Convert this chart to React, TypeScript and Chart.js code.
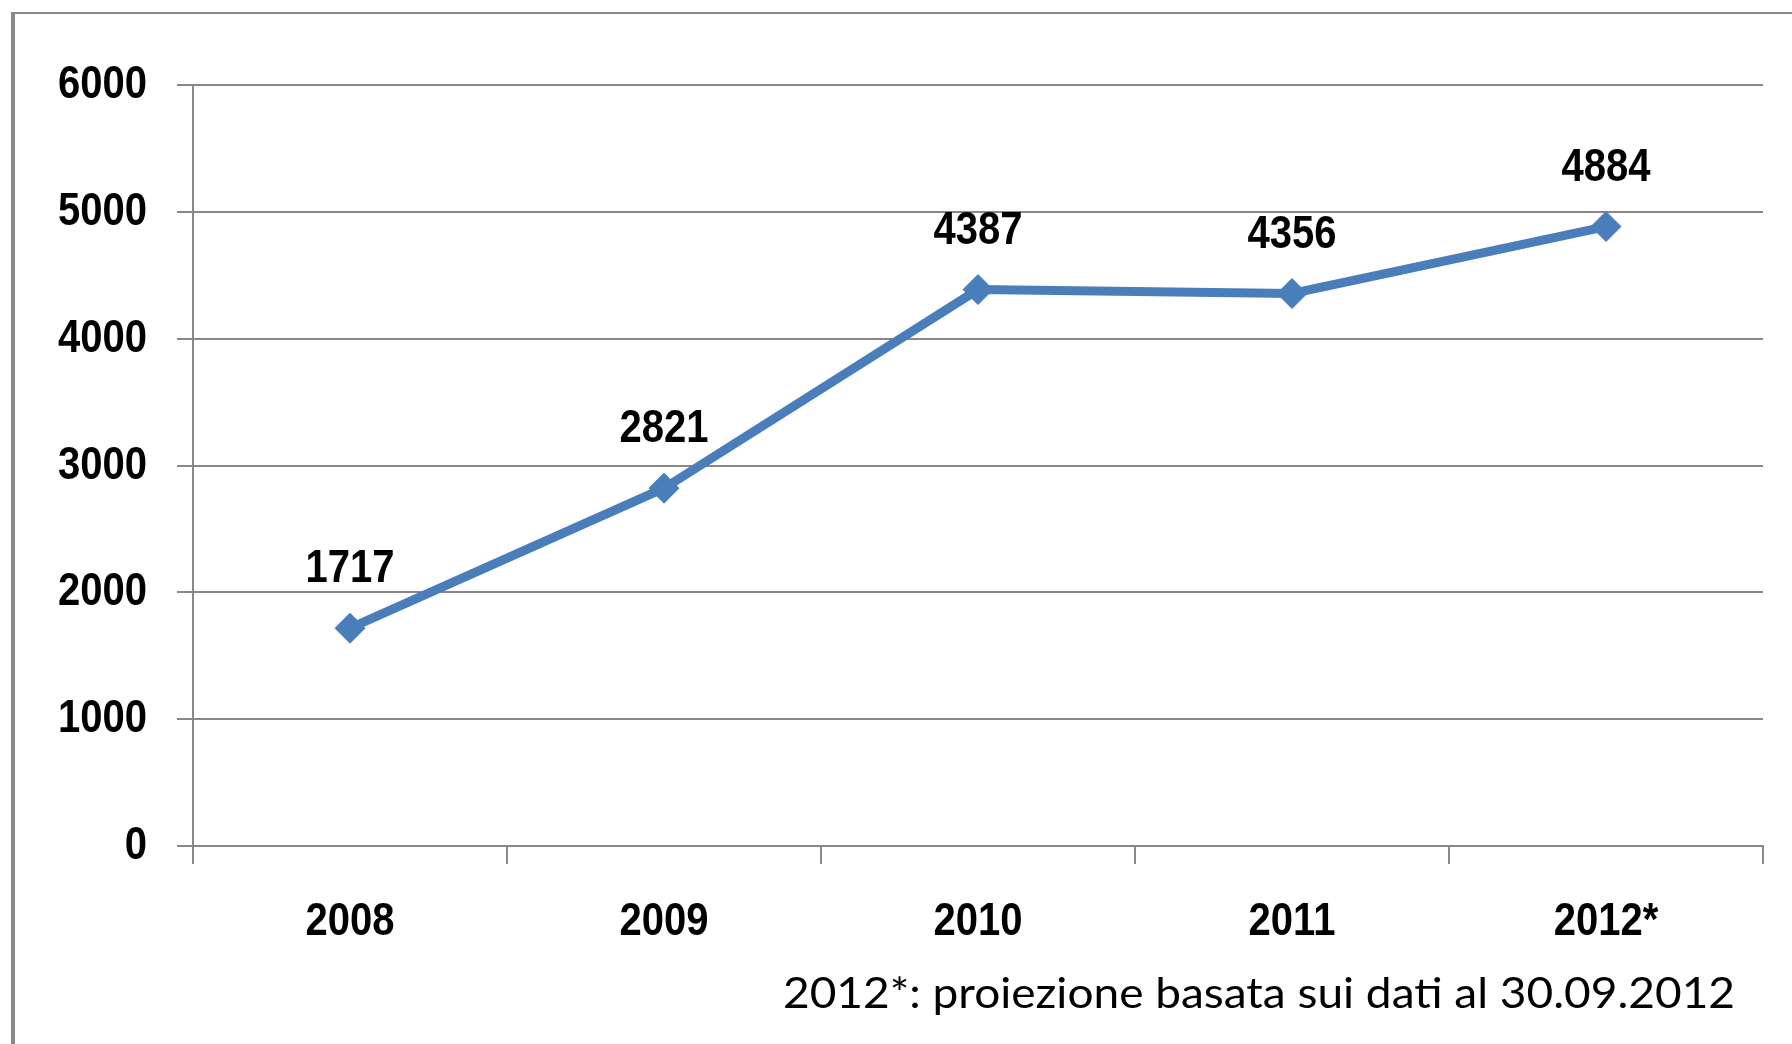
import React, { useEffect, useRef } from "react";
import { Chart, registerables } from "chart.js";

Chart.register(...registerables);

const categories = ["2008", "2009", "2010", "2011", "2012*"];
const values = [1717, 2821, 4387, 4356, 4884];
const yTicks = [0, 1000, 2000, 3000, 4000, 5000, 6000];
const footnote = "2012*: proiezione basata sui dati al 30.09.2012";

const W = 1792;
const H = 1044;
const GRAY = "#888888";
const BLUE = "#4a7ebb";
const BOLD_FONT = "bold 46px 'Liberation Sans', Arial, sans-serif";
const NARROW = 0.87;

function drawNarrow(ctx: any, text: string, x: number, y: number, align: string) {
  ctx.save();
  ctx.translate(x, y);
  ctx.scale(NARROW, 1);
  ctx.textAlign = align;
  ctx.textBaseline = "alphabetic";
  ctx.fillText(text, 0, 0);
  ctx.restore();
}

const decorPlugin = {
  id: "decor",
  beforeDraw(chart: any) {
    const ctx = chart.ctx;
    ctx.save();
    ctx.fillStyle = "#ffffff";
    ctx.fillRect(0, 0, W, H);
    ctx.fillStyle = GRAY;
    ctx.fillRect(11, 12, 4, H);
    ctx.fillRect(11, 12, W, 2);
    ctx.restore();
  },
  afterDatasetsDraw(chart: any) {
    const ctx = chart.ctx;
    const meta = chart.getDatasetMeta(0);
    const xs = chart.scales.x;
    const ys = chart.scales.y;
    ctx.save();
    ctx.fillStyle = "#000";
    ctx.font = BOLD_FONT;
    // data labels
    meta.data.forEach((pt: any, i: number) => {
      drawNarrow(ctx, String(values[i]), pt.x, pt.y - 46, "center");
    });
    // y tick labels
    yTicks.forEach((v) => {
      const py = ys.getPixelForValue(v);
      drawNarrow(ctx, String(v), 147, py + 13, "right");
    });
    // x tick labels
    categories.forEach((c, i) => {
      const px = xs.getPixelForValue(i);
      drawNarrow(ctx, c, px, 935, "center");
    });
    // footnote
    ctx.font = `42px Lato, 'Noto Sans', sans-serif`;
    const wMeasured = ctx.measureText(footnote).width;
    const targetW = 952;
    const sx = targetW / wMeasured;
    ctx.translate(1735, 1008);
    ctx.scale(sx, 1);
    ctx.textAlign = "right";
    ctx.textBaseline = "alphabetic";
    ctx.fillText(footnote, 0, 0);
    ctx.restore();
  },
};

export default function App() {
  const ref = useRef<HTMLCanvasElement | null>(null);
  useEffect(() => {
    if (!ref.current) return;
    const chart = new Chart(ref.current, {
      type: "line",
      data: {
        labels: categories,
        datasets: [
          {
            data: values,
            borderColor: BLUE,
            backgroundColor: BLUE,
            borderWidth: 9,
            pointStyle: "rectRot",
            pointRadius: 15,
            pointBackgroundColor: BLUE,
            pointBorderColor: BLUE,
            pointBorderWidth: 1,
            tension: 0,
          },
        ],
      },
      options: {
        animation: false,
        responsive: false,
        devicePixelRatio: 1,
        layout: { padding: { top: 85, right: 29, left: 0, bottom: 0 } },
        plugins: { legend: { display: false }, tooltip: { enabled: false } },
        scales: {
          x: {
            type: "category",
            offset: true,
            grid: {
              offset: true,
              drawOnChartArea: false,
              drawTicks: true,
              tickLength: 18,
              color: GRAY,
              lineWidth: 2,
            },
            border: { display: true, color: GRAY, width: 2 },
            ticks: { color: "rgba(0,0,0,0)", font: { size: 46, weight: "bold" }, padding: 26, maxRotation: 0 },
            afterFit(scale: any) {
              scale.height = 198;
            },
          },
          y: {
            min: yTicks[0],
            max: yTicks[yTicks.length - 1],
            afterBuildTicks(scale: any) {
              scale.ticks = yTicks.map((v) => ({ value: v }));
            },
            grid: { color: GRAY, lineWidth: 2, tickLength: 16, drawTicks: true },
            border: { display: true, color: GRAY, width: 2 },
            ticks: { color: "rgba(0,0,0,0)", font: { size: 46, weight: "bold" }, padding: 30, callback: (v: any) => String(v) },
            afterFit(scale: any) {
              scale.width = 193;
            },
          },
        },
      },
      plugins: [decorPlugin],
    });
    return () => chart.destroy();
  }, []);
  return (
    <div style={{ position: "fixed", left: 0, top: 0, width: W, height: H, background: "#fff" }}>
      <canvas ref={ref} width={W} height={H} style={{ width: W, height: H, display: "block" }} />
    </div>
  );
}
